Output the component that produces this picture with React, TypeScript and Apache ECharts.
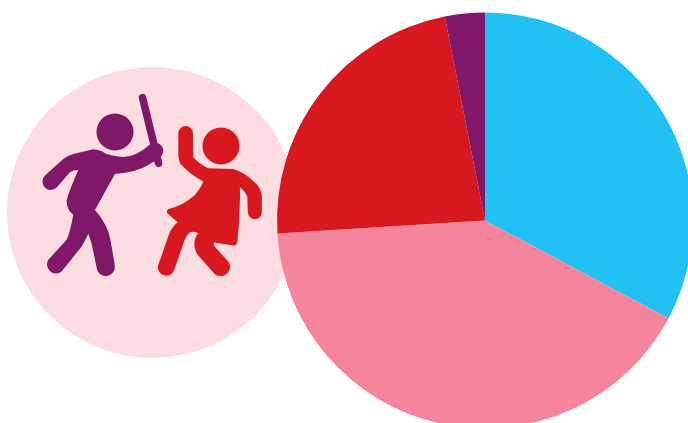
import React, { useEffect, useRef } from "react";
import * as echarts from "echarts";

const sliceNames = ["Blue", "Pink", "Red", "Purple"];
const sliceValues = [32.8, 41.2, 22.9, 3.1];
const sliceColors = ["#22c1f3", "#f5859c", "#d7191f", "#7f1866"];

const MAN_D =
  "M45,272 L100,222 Q112,212 130,207 L190,193 Q210,194 225,205 Q250,215 280,216 Q320,215 358,180 Q372,172 385,175 Q402,185 400,200 Q398,215 385,222 L355,240 Q320,262 255,267 L195,375 Q222,405 235,440 Q243,465 255,545 A27,27 0 0 1 200,548 L190,500 Q185,470 175,447 Q165,470 155,485 L95,560 A27,27 0 0 1 55,525 L110,465 Q120,445 130,390 Q110,375 110,350 Q110,335 145,255 Q130,255 120,262 L80,308 A23,23 0 0 1 45,272 Z " +
  "M327,41 A11,11 0 0 1 349,35 L397,232 A11,11 0 0 1 375,238 Z";
const WOMAN_D =
  "M100,55 A22,22 0 0 1 144,55 L144,125 Q160,145 190,160 L265,162 Q300,172 335,207 Q350,225 351,245 L351,292 A21,21 0 0 1 309,292 L307,245 Q300,228 285,218 Q287,300 277,385 Q275,393 265,392 L207,383 Q205,390 210,396 L245,435 A24,24 0 0 1 210,478 L158,420 Q148,405 148,385 Q150,365 160,355 Q145,348 135,352 Q125,360 118,378 L88,465 A24,24 0 0 1 40,450 L75,350 Q85,332 98,322 L68,296 Q62,288 70,282 Q110,275 150,240 Q168,220 175,200 Q130,175 105,145 Q100,130 100,120 Z";

echarts.graphic.registerShape("manFigure", echarts.graphic.extendPath(MAN_D, {}) as any);
echarts.graphic.registerShape("womanFigure", echarts.graphic.extendPath(WOMAN_D, {}) as any);

export default function App() {
  const ref = useRef<HTMLDivElement>(null);
  useEffect(() => {
    const chart = echarts.init(ref.current!, null, { renderer: "svg" });
    chart.setOption({
      animation: false,
      backgroundColor: "#ffffff",
      graphic: {
        elements: [
          { type: "circle", z: 1, shape: { cx: 152.5, cy: 212.5, r: 145.5 }, style: { fill: "#fadce1" } },
          { type: "circle", z: 2, shape: { cx: 115, cy: 132, r: 18.5 }, style: { fill: "#7f1866" } },
          { type: "circle", z: 2, shape: { cx: 221, cy: 146, r: 18.5 }, style: { fill: "#d7191f" } },
          { type: "manFigure", z: 2, x: 30, y: 85, scaleX: 1 / 3, scaleY: 1 / 3, style: { fill: "#7f1866" } },
          { type: "womanFigure", z: 2, x: 145, y: 115, scaleX: 1 / 3, scaleY: 1 / 3, style: { fill: "#d7191f" } },
        ],
      },
      series: [
        {
          type: "pie",
          z: 5,
          center: [485, 220.5],
          radius: [0, 208],
          startAngle: 90,
          clockwise: true,
          minAngle: 0,
          avoidLabelOverlap: false,
          label: { show: false },
          labelLine: { show: false },
          emphasis: { disabled: true },
          itemStyle: { borderWidth: 0 },
          data: sliceNames.map((name, i) => ({
            name,
            value: sliceValues[i],
            itemStyle: { color: sliceColors[i] },
          })),
        },
      ],
    });
    return () => chart.dispose();
  }, []);
  return <div ref={ref} style={{ position: "fixed", left: 0, top: 0, width: 688, height: 423 }} />;
}
